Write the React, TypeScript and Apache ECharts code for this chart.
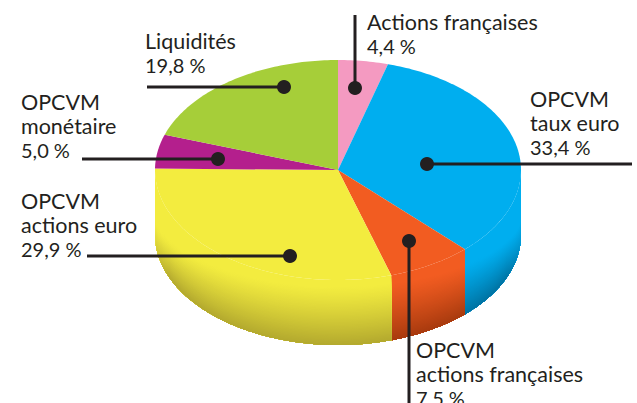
import React, { useEffect, useRef } from "react";
import * as echarts from "echarts";

const names = ["Actions françaises", "OPCVM\ntaux euro", "OPCVM\nactions françaises", "OPCVM\nactions euro", "OPCVM\nmonétaire", "Liquidités"];
const values = [4.4, 33.4, 7.5, 29.9, 5.0, 19.8];
const topColors = ["#f49ac1", "#00aeef", "#f25c21", "#f3ec3f", "#b41f8d", "#a6ce39"];
const darkColors = ["#b0607f", "#0073a3", "#a83a0e", "#b3a92e", "#7a1560", "#6f8c25"];
// [text x, text top, dot x, dot y, line end x, line end y] for each label, in the same order as names
const labelBoxes = [
  [367, 10, 355, 88, 355, 15],
  [530, 87, 427, 164, 632, 164],
  [416, 338, 409, 241, 409, 403],
  [21, 189, 290, 256, 87, 256],
  [21, 90, 218, 159, 82, 159],
  [145, 29, 284, 87, 147, 87],
];

const CX = 338, CY = 170, RX = 183, RY = 110, DEPTH = 65;
const INK = "#231f20";
const FONT = "Lato";
const LINE = 24;
const BANDS = 48;
const STOPS = 14;

const total = values.reduce((a, b) => a + b, 0);
const pt = (deg: number, dy = 0) => {
  const r = (deg * Math.PI) / 180;
  return [CX + RX * Math.sin(r), CY - RY * Math.cos(r) + dy];
};
const hex = (c: string) => [1, 3, 5].map((i) => parseInt(c.slice(i, i + 2), 16));
const mix = (a: string, b: string, t: number) => {
  const A = hex(a), B = hex(b);
  return `rgb(${A.map((v, i) => Math.round(v + (B[i] - v) * t)).join(",")})`;
};
const fr = (v: number) => v.toFixed(1).replace(".", ",");

function shade(deg: number, t: number) {
  const c = Math.abs(Math.cos((deg * Math.PI) / 180));
  const start = 0.8 - 0.7 * Math.pow(c, 0.7);
  const strength = 0.25 + 0.75 * Math.min(1, c / 0.4);
  const u = Math.max(0, (t - start) / (1 - start));
  return strength * Math.pow(u, 1.15);
}

function renderItem(params: any, api: any) {
  const i = params.dataIndex;
  const v = api.value(0);
  let before = 0;
  for (let k = 0; k < i; k++) before += values[k];
  const a0 = (before / total) * 360;
  const a1 = a0 + (v / total) * 360;
  const children: any[] = [];

  // side wall, visible from 90 to 270 degrees: bands that follow the rim, painted from top to bottom
  const w0 = Math.max(a0, 90), w1 = Math.min(a1, 270);
  if (w1 > w0) {
    const x0 = pt(w0)[0], x1 = pt(w1)[0];
    const arc: number[] = [];
    for (let a = w0; a < w1; a += 1) arc.push(a);
    arc.push(w1);
    for (let k = 0; k < BANDS; k++) {
      const t = k / BANDS;
      const stops: any[] = [];
      for (let s = 0; s <= STOPS; s++) {
        const a = w0 + ((w1 - w0) * s) / STOPS;
        stops.push({
          offset: (pt(a)[0] - x0) / (x1 - x0),
          color: mix(topColors[i], darkColors[i], shade(a, t + 0.5 / BANDS)),
        });
      }
      const fill = new echarts.graphic.LinearGradient(x0, 0, x1, 0, stops, true);
      const points = [
        ...arc.map((a) => pt(a, DEPTH * t)),
        ...arc.slice().reverse().map((a) => pt(a, DEPTH)),
      ];
      children.push({ type: "polygon", shape: { points }, style: { fill } });
    }
  }

  // top face
  const pts: number[][] = [[CX, CY]];
  for (let a = a0; a < a1; a += 1) pts.push(pt(a));
  pts.push(pt(a1));
  children.push({ type: "polygon", shape: { points: pts }, style: { fill: topColors[i] } });

  return { type: "group", children };
}

const labelGraphics = names.flatMap((name, i) => {
  const [tx, ty, x1, y1, x2, y2] = labelBoxes[i];
  const rows = name.split("\n").length;
  return [
    {
      type: "text", x: tx, y: ty, z: 10,
      style: { text: name, fill: INK, font: `21.5px ${FONT}`, lineHeight: LINE, textVerticalAlign: "top" },
    },
    {
      type: "text", x: tx, y: ty + rows * LINE, z: 10,
      style: { text: `${fr(values[i])} %`, fill: INK, font: `20px ${FONT}`, lineHeight: LINE, textVerticalAlign: "top" },
    },
    { type: "line", z: 11, shape: { x1, y1, x2, y2 }, style: { stroke: INK, lineWidth: 3 } },
    { type: "circle", z: 12, shape: { cx: x1, cy: y1, r: 7 }, style: { fill: INK } },
  ];
});

export default function App() {
  const ref = useRef<HTMLDivElement>(null);
  useEffect(() => {
    const chart = echarts.init(ref.current!, undefined, { renderer: "svg" });
    chart.setOption({
      animation: false,
      backgroundColor: "#ffffff",
      series: [
        {
          type: "custom",
          coordinateSystem: "none",
          silent: true,
          renderItem,
          data: values.map((v, i) => ({ name: names[i], value: [v] })),
        },
      ],
      graphic: labelGraphics,
    });
    return () => chart.dispose();
  }, []);
  return <div ref={ref} style={{ position: "absolute", left: 0, top: 0, width: 637, height: 403 }} />;
}
